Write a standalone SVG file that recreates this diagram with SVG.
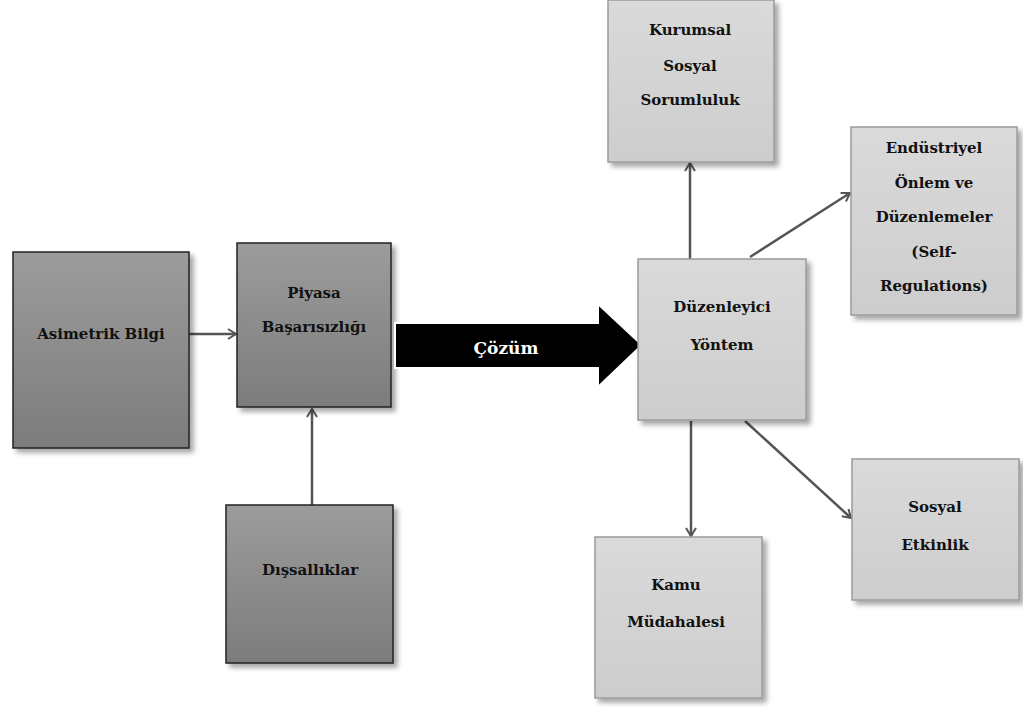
<svg xmlns="http://www.w3.org/2000/svg" width="1023" height="708" viewBox="0 0 1023 708">
<defs>
<linearGradient id="gd" x1="0" y1="0" x2="0" y2="1"><stop offset="0" stop-color="#9c9c9c"/><stop offset="1" stop-color="#7c7c7c"/></linearGradient>
<linearGradient id="gl" x1="0" y1="0" x2="0" y2="1"><stop offset="0" stop-color="#dadada"/><stop offset="1" stop-color="#cdcdcd"/></linearGradient>
<filter id="sh" x="-10%" y="-10%" width="125%" height="125%"><feDropShadow dx="4" dy="4" stdDeviation="2.5" flood-color="#000" flood-opacity="0.35"/></filter>
<marker id="ah" viewBox="0 0 12 12" refX="10" refY="6" markerWidth="12" markerHeight="12" markerUnits="userSpaceOnUse" orient="auto"><path d="M2,1 L10,6 L2,11" fill="none" stroke="#555" stroke-width="2"/></marker>
</defs>
<style>
.dark{fill:url(#gd);stroke:#222;stroke-width:1.5;filter:url(#sh)}
.light{fill:url(#gl);stroke:#9a9a9a;stroke-width:1.5;filter:url(#sh)}
text{font-weight:bold;font-size:15px;fill:#111;text-anchor:middle;dominant-baseline:central}
.conn line{stroke:#555;stroke-width:2.5;marker-end:url(#ah)}
</style>
<rect width="1023" height="708" fill="#fff"/>
<g class="conn">
<line x1="189" y1="334" x2="236" y2="334"/>
<line x1="312" y1="505" x2="312" y2="409"/>
<line x1="690" y1="259" x2="690" y2="163"/>
<line x1="750" y1="257" x2="850" y2="193"/>
<line x1="691" y1="421" x2="691" y2="536"/>
<line x1="745" y1="421" x2="851" y2="518"/>
</g>
<g font-family="'DejaVu Serif', serif">
<g id="asimetrik"><rect class="dark" x="13" y="252" width="176" height="196"/><text x="101" y="334">Asimetrik Bilgi</text></g>
<g id="piyasa"><rect class="dark" x="237" y="243" width="154" height="164"/><text x="314" y="293">Piyasa</text><text x="314" y="327">Başarısızlığı</text></g>
<g id="dissallik"><rect class="dark" x="226" y="505" width="167" height="158"/><text x="310" y="570">Dışsallıklar</text></g>
<g id="cozum"><path d="M395,323 L598,323 L598,304 L642,345 L598,387 L598,368 L395,368 Z" fill="#000" stroke="#fff" stroke-width="2"/><text x="506" y="348" style="fill:#fff;font-size:17px">Çözüm</text></g>
<g id="kurumsal"><rect class="light" x="608" y="0" width="166" height="162"/><text x="690" y="30">Kurumsal</text><text x="690" y="66">Sosyal</text><text x="690" y="100">Sorumluluk</text></g>
<g id="duzenleyici"><rect class="light" x="638" y="259" width="168" height="161"/><text x="722" y="307">Düzenleyici</text><text x="722" y="345">Yöntem</text></g>
<g id="endustriyel"><rect class="light" x="851" y="127" width="166" height="188"/><text x="934" y="148">Endüstriyel</text><text x="934" y="183">Önlem ve</text><text x="934" y="217">Düzenlemeler</text><text x="934" y="252">(Self-</text><text x="934" y="286">Regulations)</text></g>
<g id="kamu"><rect class="light" x="595" y="537" width="167" height="161"/><text x="676" y="585">Kamu</text><text x="676" y="622">Müdahalesi</text></g>
<g id="sosyal"><rect class="light" x="852" y="459" width="167" height="141"/><text x="935" y="507">Sosyal</text><text x="935" y="545">Etkinlik</text></g>
</g>
</svg>
